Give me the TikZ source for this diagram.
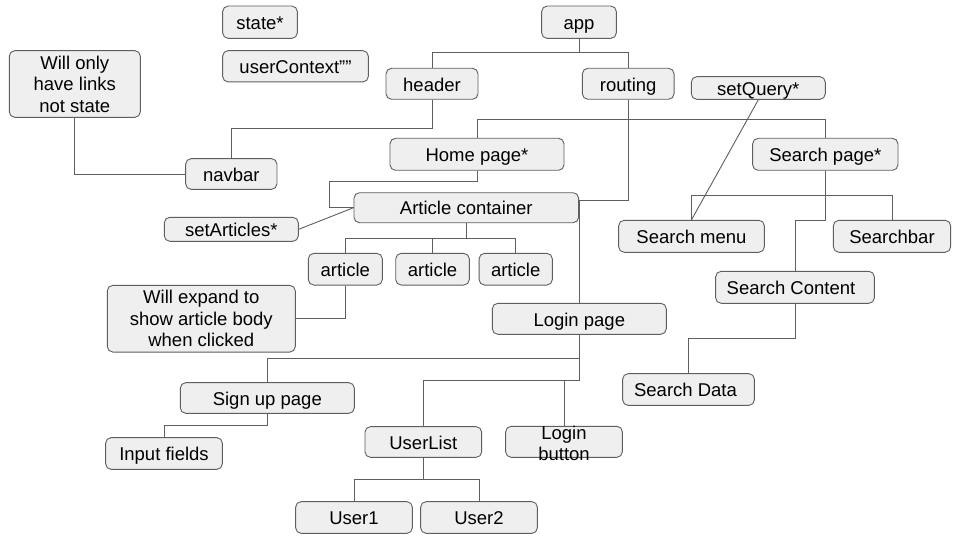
\documentclass[tikz,border=0pt]{standalone}
\usepackage{fontspec}
\setmainfont{Liberation Sans}
\begin{document}
\begin{tikzpicture}[x=1pt,y=-1pt,
  box/.style={draw=boxline, fill=boxfill, rounded corners=5.5pt, line width=0.9pt, inner sep=0pt, align=center, font=\fontsize{18.5}{21.5}\selectfont},
  one/.style={box, text height=14.5pt, text depth=0pt},
  conn/.style={draw=boxline, line width=0.9pt},
  lbl/.style={inner sep=0pt, align=center, font=\fontsize{18.5}{21}\selectfont}]
\definecolor{boxfill}{HTML}{EFEFEF}
\definecolor{boxline}{HTML}{5F5F5F}
\useasboundingbox (0,0) rectangle (960,540);
\fill[white] (0,0) rectangle (960,540);
% nodes
\node[one, minimum width=74.7, minimum height=32.3] (state) at (260,22.2) {state*};
\node[one, minimum width=145.7, minimum height=31.3] (ctx) at (295.5,66.3) {userContext""};
\node[box, minimum width=131, minimum height=66.7] (willonly) at (74.8,84) {Will only\\have links\\not state};
\node[one, minimum width=74.7, minimum height=32.3] (app) at (579,22.2) {app};
\node[one, minimum width=92, minimum height=31] (header) at (432,83.8) {header};
\node[one, minimum width=91.7, minimum height=31] (routing) at (628.2,83.8) {routing};
\node[one, minimum width=134, minimum height=22.7] (setquery) at (758.3,88) {setQuery*};
\node[one, minimum width=91.3, minimum height=30.7] (navbar) at (231.3,174) {navbar};
\node[one, minimum width=174, minimum height=32] (home) at (477,154.3) {Home page*};
\node[one, minimum width=145.3, minimum height=32] (searchpage) at (825.3,154.3) {Search page*};
\node[one, minimum width=224.7, minimum height=30] (artcont) at (466.3,207.7) {Article container};
\node[one, minimum width=134, minimum height=24] (setart) at (231.3,229.3) {setArticles*};
\node[one, minimum width=145.7, minimum height=32] (searchmenu) at (691.5,236.3) {Search menu};
\node[one, minimum width=117.3, minimum height=32] (searchbar) at (892,236.3) {Searchbar};
\node[one, minimum width=74, minimum height=31.7] (art1) at (345.3,269.2) {article};
\node[one, minimum width=73.6, minimum height=31.7] (art2) at (432.5,269.2) {article};
\node[one, minimum width=73.3, minimum height=31.7] (art3) at (515.7,269.2) {article};
\node[one, minimum width=158.7, minimum height=32] (searchcontent) at (795,287.3) {Search Content\hspace{8pt}};
\node[box, minimum width=188, minimum height=66.7] (willexpand) at (201.3,318.7) {Will expand to\\show article body\\when clicked};
\node[one, minimum width=174, minimum height=31] (loginpage) at (579.3,318.8) {Login page};
\node[one, minimum width=131.7, minimum height=31.7] (searchdata) at (688.5,389.5) {Search Data\hspace{6pt}};
\node[one, minimum width=174, minimum height=30.7] (signup) at (267.3,398) {Sign up page};
\node[one, minimum width=116.7, minimum height=31.7] (inputfields) at (164,453.5) {Input fields};
\node[one, minimum width=116.7, minimum height=30.7] (userlist) at (423.3,442) {UserList};
\node[box, minimum width=116.7, minimum height=31] (loginbutton) at (564,441.8) {};
\node[lbl] (loginbuttontext) at (564,443.5) {Login\\button};
\node[one, minimum width=116.7, minimum height=31.7] (user1) at (354,517.5) {User1};
\node[one, minimum width=116.7, minimum height=31.7] (user2) at (479,517.5) {User2};
% connectors
\draw[conn] (app.south) -- ++(0,14) -| (header.north);
\draw[conn] (app.south) -- ++(0,14) -| (routing.north);
\draw[conn] (header.south) -- (432,128) -| (navbar.north);
\draw[conn] (willonly.south) |- (navbar.west);
\draw[conn] (routing.south) -- (628.2,119) -| (home.north);
\draw[conn] (routing.south) -- (628.2,119) -| (searchpage.north);
\draw[conn] (routing.south) -- (628.2,200.7) -- (579.3,200.7) -- (loginpage.north);
\draw[conn] (home.south) -- (477,181.7) -- (329.7,181.7) |- (artcont.west);
\draw[conn] (setart.east) -- (artcont.west);
\draw[conn] (artcont.south) -- (466.3,238.7) -| (art1.north);
\draw[conn] (artcont.south) -- (466.3,238.7) -| (art2.north);
\draw[conn] (artcont.south) -- (466.3,238.7) -| (art3.north);
\draw[conn] (art1.south) |- (willexpand.east);
\draw[conn] (searchpage.south) -- (825.3,195.8) -| (searchmenu.north);
\draw[conn] (searchpage.south) -- (825.3,195.8) -| (searchbar.north);
\draw[conn] (searchpage.south) -- (825.3,220.3) -| (searchcontent.north);
\draw[conn] (setquery.south) -- (searchmenu.north);
\draw[conn] (searchcontent.south) -- (795,338.3) -| (searchdata.north);
\draw[conn] (loginpage.south) -- (579.3,358.3) -| (signup.north);
\draw[conn] (loginpage.south) -- (579.3,380) -| (userlist.north);
\draw[conn] (579.3,380) -| (loginbutton.north);
\draw[conn] (signup.south) -- (267.3,425) -| (inputfields.north);
\draw[conn] (userlist.south) -- (423.3,479.3) -| (user1.north);
\draw[conn] (userlist.south) -- (423.3,479.3) -| (user2.north);
\end{tikzpicture}
\end{document}
